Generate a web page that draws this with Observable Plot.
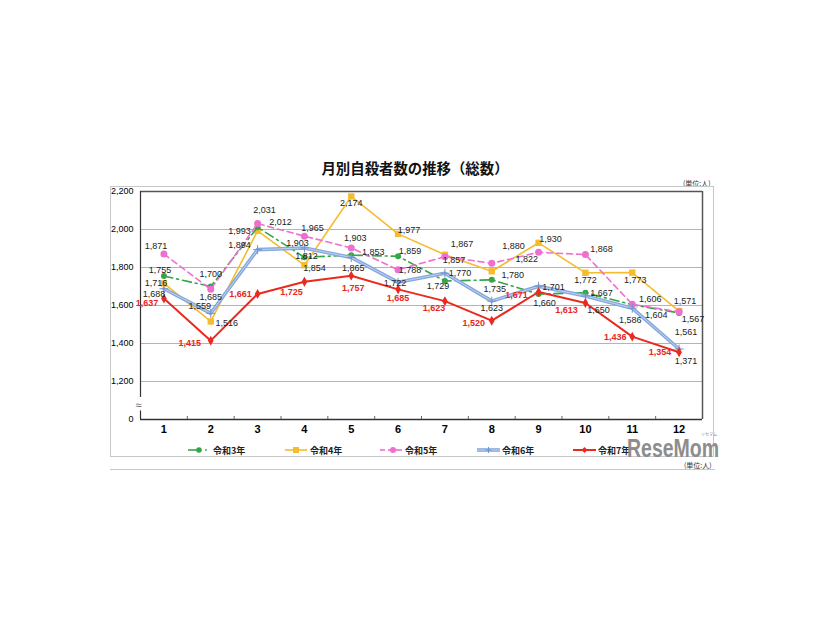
<!DOCTYPE html>
<html><head><meta charset="utf-8">
<script src="https://cdn.jsdelivr.net/npm/d3@7"></script>
<script src="https://cdn.jsdelivr.net/npm/@observablehq/plot@0.6"></script>
<style>
html,body{margin:0;padding:0;background:#fff;}
#page{position:relative;width:826px;height:620px;overflow:hidden;font-family:"Liberation Sans",Arial,sans-serif;}
.abs{position:absolute;}
#title{left:265px;top:159px;width:300px;text-align:center;font-family:"Noto Sans CJK JP",sans-serif;font-weight:bold;font-size:14.4px;line-height:17px;color:#111;}
.unit{font-family:"Noto Sans CJK JP",sans-serif;font-size:7px;color:#333;line-height:8px;}
#box{left:110px;top:186px;width:604px;height:271px;border:1px solid #c8c8c8;box-sizing:border-box;}
#chart{left:110px;top:186px;}
.leg{position:absolute;top:444px;height:12px;display:flex;align-items:center;font-family:"Noto Sans CJK JP",sans-serif;font-weight:bold;font-size:9px;color:#222;}
.leg svg{margin-right:2px;}
#hr{left:110px;top:469px;width:605px;height:1px;background:#c8c8c8;}
#logo{left:627px;top:437px;font-family:"Liberation Sans",Arial,sans-serif;font-weight:bold;font-size:25px;color:#8d8d8d;line-height:23px;transform:scaleX(0.78);transform-origin:left top;white-space:nowrap;}
#logo-sm{left:701px;top:432px;font-size:4px;font-family:"Noto Sans CJK JP",sans-serif;color:#888;line-height:5px;}
</style></head>
<body><div id="page">
<div id="title" class="abs">月別自殺者数の推移（総数）</div>
<div class="abs unit" style="left:683px;top:179px;">(単位:人)</div>
<div id="box" class="abs"></div>
<div id="chart" class="abs"></div>
<div id="legend"></div>
<div id="logo" class="abs">ReseMom</div>
<div id="logo-sm" class="abs">リセマム</div>
<div class="abs unit" style="left:684px;top:461px;">(単位:人)</div>
<div id="hr" class="abs"></div>
</div>
<script>
// ---- data ----
const months = [1,2,3,4,5,6,7,8,9,10,11,12];
const seriesNames = ["令和3年","令和4年","令和5年","令和6年","令和7年"];
const r3 = [1755,1700,2012,1854,1865,1859,1729,1735,1660,1667,1604,1561];
const r4 = [1716,1516,1993,1812,2174,1977,1867,1780,1930,1772,1773,1571];
const r5 = [1871,1685,2031,1965,1903,1788,1857,1822,1880,1868,1606,1567];
const r6 = [1688,1559,1894,1903,1853,1722,1770,1623,1701,1650,1586,1371];
const r7 = [1637,1415,1661,1725,1757,1685,1623,1520,1671,1613,1436,1354];
const yTicks = [1000,1200,1400,1600,1800,2000,2200];
const yTickLabels = ["0","1,200","1,400","1,600","1,800","2,000","2,200"];

// ---- label placement (pixel offsets from each point) ----
const off3 = [[-4,-6],[0,-12],[23,-5],[10,11],[2,13],[12,-5],[-7,5],[3,9],[6,9],[16,0],[24,10],[7,19]];
const off4 = [[-8,0],[16,2],[-18,0],[2,-9],[0,7],[11,-4],[17,-11],[21,4],[12,-4],[0,7],[3,7],[6,-10]];
const off5 = [[-8,-8],[0,8],[7,-14],[8,-8],[4,-10],[12,0],[9,3],[35,-4],[-25,-6],[16,-5],[18,-5],[14,7]];
const off6 = [[-10,5],[-11,-7],[-18,-5],[-7,-5],[22,-5],[-3,1],[15,0],[0,7],[15,1],[13,14],[-2,12],[7,12]];
const off7 = [[-17,5],[-21,2],[-17,0],[-13,10],[2,12],[0,9],[-11,7],[-18,2],[-22,3],[-19,7],[-17,0],[-19,0]];

const values = [r3, r4, r5, r6, r7];
const offsets = [off3, off4, off5, off6, off7];
const colors = ["#38a448","#f5bd2e","#ee6fd0","#86a8dc","#ea2a1f"];

const rows = seriesNames.map((s, si) => months.map((m, i) => ({series: s, month: m, value: values[si][i], dx: offsets[si][i][0], dy: offsets[si][i][1], si})));
const fmt = d3.format(",");

const lineOf = (si, opts) => Plot.line(rows[si], {x: "month", y: "value", ...opts});

const labelMarks = rows.flat().map(r => Plot.text([r], {
  x: "month", y: "value", text: d => fmt(d.value), dx: r.dx, dy: r.dy,
  fontSize: 9, fill: r.si === 4 ? "#e8261c" : "#222", fontWeight: r.si === 4 ? "bold" : "normal",
  fontFamily: "Liberation Sans, Arial, sans-serif"
}));

const chart = Plot.plot({
  width: 605, height: 255,
  marginLeft: 30, marginRight: 13, marginTop: 5, marginBottom: 22,
  x: {type: "linear", domain: [0.5, 12.5]},
  y: {domain: [1000, 2200]},
  style: {fontFamily: "Liberation Sans, Arial, sans-serif", background: "transparent", overflow: "visible"},
  marks: [
    Plot.ruleY(yTicks.slice(1, -1), {stroke: "#b4b4b4", strokeWidth: 1}),
    Plot.ruleY([2200], {stroke: "#555", strokeWidth: 1.5}),
    Plot.ruleX([12.5], {stroke: "#555", strokeWidth: 1.5}),
    Plot.ruleX([0.5], {y1: 1116, y2: 2200, stroke: "#333", strokeWidth: 1.2}),
    Plot.ruleX([0.5], {y1: 1000, y2: 1045, stroke: "#333", strokeWidth: 1.2}),
    Plot.text(["≈"], {x: 0.5, y: 1072, text: d => d, fontSize: 11, fill: "#666", dx: -2}),
    Plot.ruleY([1000], {stroke: "#333", strokeWidth: 1.5}),
    Plot.ruleX(months.slice(0, -1).map(m => m + 0.5), {y1: 1000, y2: 1016, stroke: "#666", strokeWidth: 1}),
    Plot.axisY(yTicks, {tickSize: 0, tickPadding: 7, fontSize: 9, label: null, tickFormat: d => yTickLabels[yTicks.indexOf(d)]}),
    Plot.axisX(months, {tickSize: 0, tickPadding: 6, fontSize: 11, fontWeight: "bold", label: null, tickFormat: d => String(d)}),
    // 令和4年
    lineOf(1, {stroke: colors[1], strokeWidth: 1.6}),
    Plot.dot(rows[1], {x: "month", y: "value", symbol: "square", r: 3.6, fill: colors[1]}),
    // 令和3年
    lineOf(0, {stroke: colors[0], strokeWidth: 1.6, strokeDasharray: "9,4,2,4"}),
    Plot.dot(rows[0], {x: "month", y: "value", r: 3, fill: colors[0]}),
    // 令和5年
    lineOf(2, {stroke: colors[2], strokeWidth: 1.6, strokeDasharray: "6,4"}),
    Plot.dot(rows[2], {x: "month", y: "value", r: 3.5, fill: colors[2]}),
    // 令和6年
    lineOf(3, {stroke: colors[3], strokeWidth: 3.6}),
    lineOf(3, {stroke: "#bfd1ee", strokeWidth: 1}),
    Plot.dot(rows[3], {x: "month", y: "value", symbol: "plus", r: 3, stroke: "#6f93cc", strokeWidth: 1}),
    // 令和7年
    lineOf(4, {stroke: colors[4], strokeWidth: 2}),
    Plot.dot(rows[4], {x: "month", y: "value", symbol: "diamond", r: 3, fill: colors[4]}),
    ...labelMarks
  ]
});
document.getElementById("chart").appendChild(chart);

// ---- legend ----
const legendX = [188, 285, 380, 477, 573];
const legendSym = [
  `<line x1="0" y1="5" x2="11" y2="5" stroke="${colors[0]}" stroke-width="1.6"/><circle cx="11" cy="5" r="2.8" fill="${colors[0]}"/><circle cx="18" cy="5" r="0.9" fill="${colors[0]}"/>`,
  `<line x1="0" y1="5" x2="22" y2="5" stroke="${colors[1]}" stroke-width="1.6"/><rect x="8" y="2" width="6" height="6" fill="${colors[1]}"/>`,
  `<line x1="0" y1="5" x2="5" y2="5" stroke="${colors[2]}" stroke-width="1.6"/><line x1="8" y1="5" x2="22" y2="5" stroke="${colors[2]}" stroke-width="1.6"/><circle cx="13" cy="5" r="3" fill="${colors[2]}"/>`,
  `<line x1="0" y1="5" x2="23" y2="5" stroke="${colors[3]}" stroke-width="3.6"/><line x1="0" y1="5" x2="23" y2="5" stroke="#bfd1ee" stroke-width="1"/><path d="M11.5 2v6M8.5 5h6" stroke="#6f93cc"/>`,
  `<line x1="0" y1="5" x2="23" y2="5" stroke="${colors[4]}" stroke-width="2"/><path d="M11.5 2l3 3-3 3-3-3z" fill="${colors[4]}"/>`
];
const page = document.getElementById("page");
seriesNames.forEach((s, i) => {
  const d = document.createElement("div");
  d.className = "leg";
  d.style.left = legendX[i] + "px";
  d.innerHTML = `<svg width="23" height="10">${legendSym[i]}</svg><span>${s}</span>`;
  page.insertBefore(d, document.getElementById("logo"));
});
</script>
</body></html>
